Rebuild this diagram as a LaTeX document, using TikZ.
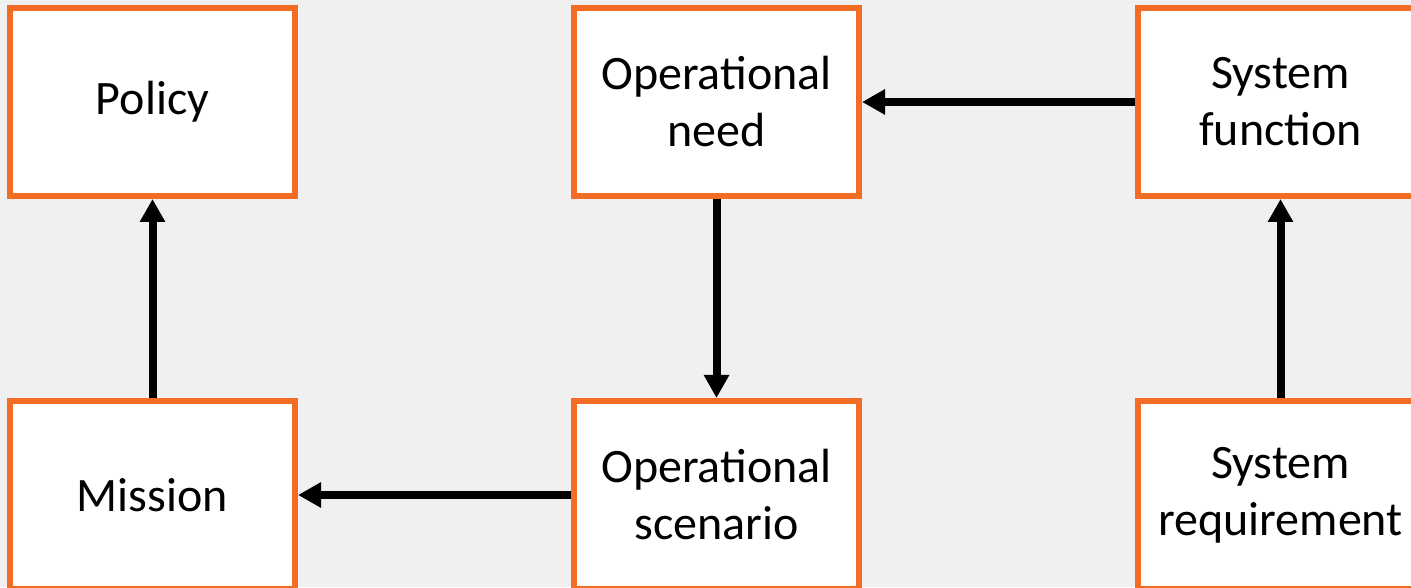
\documentclass[tikz,border=0pt]{standalone}
\usepackage{fontspec}
\setmainfont{Carlito}
\usetikzlibrary{arrows.meta, positioning}
\definecolor{boxorange}{RGB}{242,108,36}
\definecolor{backgray}{RGB}{240,240,240}
\tikzstyle{block} = [rectangle, draw=boxorange, fill=white, line width=6pt,
                     minimum width=285pt, minimum height=188pt, align=center,
                     font=\fontsize{48}{57}\selectfont]
\tikzstyle{link} = [line width=8pt, -{Triangle[length=23pt, width=24pt]}]

\begin{document}
\begin{tikzpicture}[x=1pt, y=1pt]
	\useasboundingbox (0, 0) rectangle (1411, 587);
	\fill [backgray] (0, 0) rectangle (1411, 587);

	% top row
	\node (Policy) [block] at (152.5, 485) {Policy};
	\node (OpNeed) [block] at (716.5, 485) {Operational\\need};
	\node (SysFunction) [block] at (1280.5, 485) {System\\function};

	% bottom row
	\node (Mission) [block] at (152.5, 92) {Mission};
	\node (OpScenario) [block] at (716.5, 92) {Operational\\scenario};
	\node (SysRequirement) [block] at (1280.5, 92) {System\\requirement};

	% links
	\draw [link] (Mission) -- (Policy);
	\draw [link] (OpNeed) -- (OpScenario);
	\draw [link] (OpScenario) -- (Mission);
	\draw [link] (SysFunction) -- (OpNeed);
	\draw [link] (SysRequirement) -- (SysFunction);
\end{tikzpicture}
\end{document}
